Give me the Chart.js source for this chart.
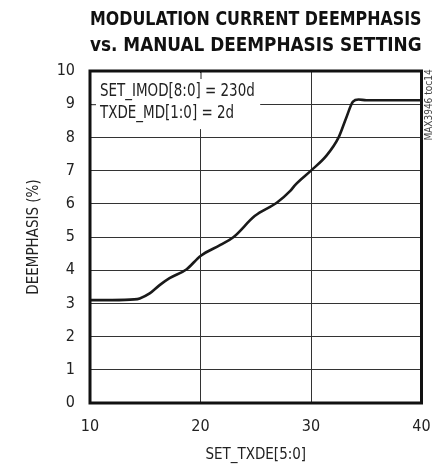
<!DOCTYPE html>
<html>
<head>
<meta charset="utf-8">
<script src="https://cdn.jsdelivr.net/npm/chart.js@4.4.1/dist/chart.umd.min.js"></script>
<style>
html,body{margin:0;padding:0;background:#fff;}
#wrap{width:437px;height:464px;position:relative;}
</style>
</head>
<body>
<div id="wrap"><canvas id="c" width="437" height="464"></canvas></div>
<script>
const titleLines = ["MODULATION CURRENT DEEMPHASIS", "vs. MANUAL DEEMPHASIS SETTING"];
const xAxisTitle = "SET_TXDE[5:0]";
const yAxisTitle = "DEEMPHASIS (%)";
const noteLines = ["SET_IMOD[8:0] = 230d", "TXDE_MD[1:0] = 2d"];
const sideLabel = "MAX3946 toc14";
const xTicks = [10, 20, 30, 40];
const yTicks = [0, 1, 2, 3, 4, 5, 6, 7, 8, 9, 10];
const setTxde = [10, 12, 14, 14.5, 15.4, 16.3, 17.2, 18.75, 20, 21.8, 23, 24.9, 26.9, 28.1, 28.6, 30, 31.4, 32.5, 33.2, 33.8, 34.3, 35, 40];
const deemphasis = [3.10, 3.10, 3.12, 3.15, 3.30, 3.55, 3.76, 4.03, 4.43, 4.76, 5.0, 5.63, 6.03, 6.38, 6.58, 7.0, 7.45, 8.0, 8.6, 9.08, 9.14, 9.12, 9.12];

const NARROW = "'Liberation Sans Narrow', 'DejaVu Sans Condensed', 'Roboto Condensed', sans-serif";

const framePlugin = {
  id: 'frame',
  beforeDatasetsDraw(chart) {
    const {ctx, chartArea: a, scales} = chart;
    ctx.save();
    const xEnd = scales.x.getPixelForValue(25.4);
    const yEnd = scales.y.getPixelForValue(8.25);
    ctx.fillStyle = '#fff';
    ctx.fillRect(a.left + 2, a.top + 2, xEnd - a.left - 2, yEnd - a.top - 2);
    ctx.strokeStyle = '#222';
    ctx.lineWidth = 1;
    ctx.beginPath();
    const x20 = scales.x.getPixelForValue(20);
    ctx.moveTo(x20 + 0.5, a.top); ctx.lineTo(x20 + 0.5, a.top + 8);
    const y9 = scales.y.getPixelForValue(9);
    ctx.moveTo(a.left, y9 + 0.5); ctx.lineTo(a.left + 6, y9 + 0.5);
    ctx.stroke();
    ctx.fillStyle = '#222';
    ctx.font = "17px " + NARROW;
    ctx.textBaseline = 'middle';
    ctx.textAlign = 'left';
    ctx.save();
    ctx.translate(a.left + 10, a.top + 20.5);
    ctx.scale(0.88, 1);
    ctx.fillText(noteLines[0], 0, 0);
    ctx.restore();
    ctx.save();
    ctx.translate(a.left + 10, a.top + 42.5);
    ctx.scale(0.88, 1);
    ctx.fillText(noteLines[1], 0, 0);
    ctx.restore();
    ctx.restore();
  },
  afterDraw(chart) {
    const {ctx, chartArea: a} = chart;
    ctx.save();
    ctx.strokeStyle = '#111';
    ctx.lineWidth = 3;
    ctx.strokeRect(a.left, a.top, a.right - a.left, a.bottom - a.top);
    ctx.translate(a.right + 8, a.top + 34);
    ctx.rotate(-Math.PI / 2);
    ctx.fillStyle = '#444';
    ctx.font = "10px " + NARROW;
    ctx.textAlign = 'center';
    ctx.textBaseline = 'middle';
    ctx.fillText(sideLabel, 0, 0);
    ctx.restore();
  }
};

new Chart(document.getElementById('c'), {
  type: 'line',
  data: {
    datasets: [{
      data: setTxde.map((x, i) => ({x: x, y: deemphasis[i]})),
      borderColor: '#1a1a1a',
      borderWidth: 2.6,
      pointRadius: 0,
      fill: false,
      cubicInterpolationMode: 'monotone'
    }]
  },
  options: {
    responsive: false,
    animation: false,
    devicePixelRatio: 1,
    layout: {padding: {left: 25, right: 15.5, top: 0, bottom: 0}},
    plugins: {
      legend: {display: false},
      tooltip: {enabled: false},
      title: {
        display: true,
        fullSize: false,
        text: titleLines,
        color: '#111',
        font: {family: NARROW, size: 20, weight: 'bold', lineHeight: 1.3},
        padding: {top: 7, bottom: 12}
      }
    },
    scales: {
      x: {
        type: 'linear',
        min: 10, max: 40,
        afterBuildTicks(s) { s.ticks = xTicks.map(v => ({value: v})); },
        afterFit(s) { s.height = 61; s.paddingLeft = 0; s.paddingRight = 0; },
        grid: {color: '#333', lineWidth: 1, drawTicks: false},
        border: {display: false},
        ticks: {color: '#222', font: {family: NARROW, size: 16}, padding: 14},
        title: {display: true, text: xAxisTitle, color: '#222', font: {family: NARROW, size: 15}, padding: {top: 8, bottom: 0}}
      },
      y: {
        min: 0, max: 10,
        afterBuildTicks(s) { s.ticks = yTicks.map(v => ({value: v})); },
        afterFit(s) { s.width = 65; },
        grid: {color: '#333', lineWidth: 1, drawTicks: false},
        border: {display: false},
        ticks: {color: '#222', font: {family: NARROW, size: 16}, padding: 15},
        title: {display: true, text: yAxisTitle, color: '#222', font: {family: NARROW, size: 15}, padding: {top: 0, bottom: 10}}
      }
    }
  },
  plugins: [framePlugin]
});
</script>
</body>
</html>
